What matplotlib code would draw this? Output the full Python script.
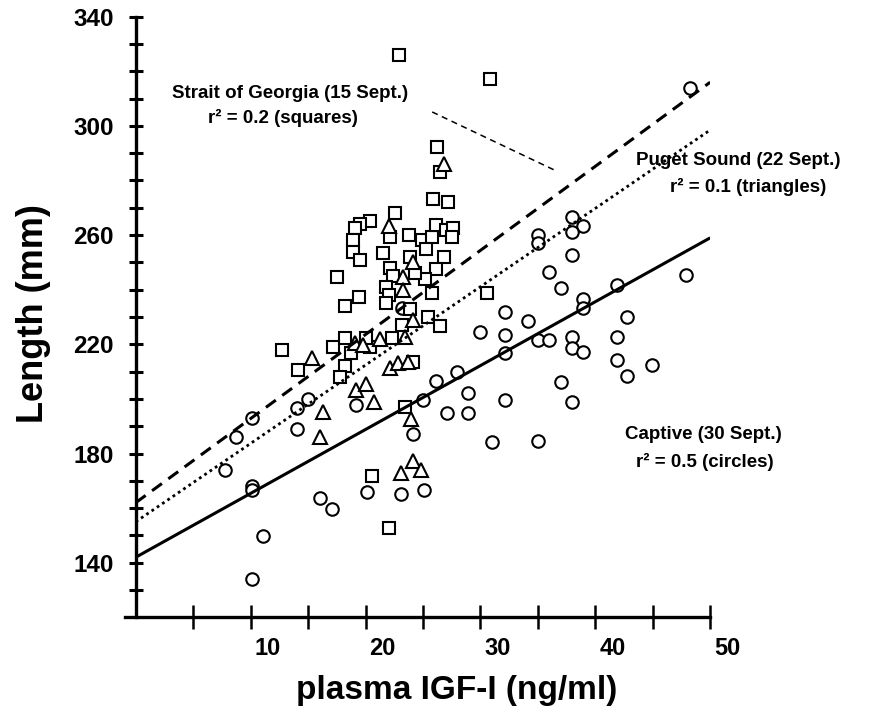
import matplotlib
matplotlib.use("Agg")
import matplotlib.pyplot as plt
import matplotlib.transforms as mtransforms
import numpy as np

plt.rcParams['font.family'] = ['Liberation Sans', 'DejaVu Sans']
plt.rcParams['font.weight'] = 'bold'

# Captive fish (circles)
circ_x = [8.7, 10.1, 7.8, 10.1, 10.1, 11.1, 10.1, 14.0, 15.0, 14.0, 19.2, 16.0, 17.1, 20.1,
          23.1, 25.1, 24.1, 25.0, 26.1, 28.0, 27.1, 28.9, 28.9, 23.2, 38.0, 38.9, 38.0, 35.0,
          35.0, 38.0, 36.0, 37.0, 47.9, 41.9, 38.9, 38.9, 32.1, 34.1, 42.8, 30.0, 32.1, 35.0,
          36.0, 38.0, 38.0, 38.9, 41.9, 41.9, 44.9, 42.8, 32.1, 32.1, 37.0, 38.0, 31.0, 35.0,
          48.2]
circ_y = [186.0, 193.0, 174.0, 168.1, 166.6, 149.8, 134.0, 196.7, 200.0, 189.0, 197.8, 163.7,
          159.5, 165.9, 165.2, 166.6, 187.1, 199.6, 206.6, 209.8, 194.8, 194.8, 202.2, 233.3,
          266.6, 263.3, 261.1, 260.0, 257.1, 252.7, 246.5, 240.6, 245.4, 241.7, 236.6, 233.3,
          231.8, 228.5, 230.0, 224.5, 223.4, 221.6, 221.6, 222.7, 218.6, 217.2, 222.7, 214.3,
          212.4, 208.4, 216.8, 199.6, 206.2, 198.9, 184.2, 184.6, 313.9]

# Strait of Georgia (squares)
sq_x = [22.9, 30.8, 26.2, 26.5, 25.9, 27.2, 22.6, 20.4, 19.5, 19.1, 18.9, 18.9, 19.5, 21.5,
        22.1, 23.8, 24.9, 25.8, 26.1, 27.0, 27.6, 27.5, 25.3, 26.8, 23.9, 26.1, 22.1, 22.4,
        25.2, 24.3, 17.5, 21.8, 19.4, 18.2, 22.0, 21.8, 25.8, 23.9, 25.4, 26.5, 23.2, 30.6,
        22.3, 18.2, 20.4, 20.0, 18.7, 18.2, 17.8, 17.2, 12.7, 14.1, 24.1, 23.4, 20.6, 22.0]
sq_y = [326.0, 317.2, 292.2, 283.1, 273.2, 272.1, 268.1, 265.2, 264.1, 262.6, 258.2, 253.8,
        250.9, 253.4, 259.3, 260.0, 258.2, 259.3, 263.7, 261.9, 262.6, 259.3, 254.9, 252.0,
        252.0, 247.6, 247.9, 245.0, 243.9, 246.1, 244.7, 241.0, 237.3, 234.0, 238.1, 235.1,
        238.8, 232.9, 230.0, 226.7, 227.1, 238.8, 222.3, 222.3, 219.1, 222.3, 216.8, 212.1,
        208.1, 218.9, 217.8, 210.5, 213.5, 197.0, 171.8, 152.7]

# Puget Sound (triangles)
tri_x = [26.8, 22.0, 24.1, 23.3, 23.3, 24.1, 23.4, 21.3, 19.1, 19.8, 15.3, 22.1, 22.8, 23.7,
         16.3, 16.0, 19.2, 20.0, 20.7, 24.0, 24.1, 23.1, 24.8]
tri_y = [286.1, 263.3, 250.1, 244.6, 239.9, 228.9, 222.7, 221.9, 220.5, 219.7, 215.0, 211.3,
         213.1, 213.5, 195.2, 186.0, 203.3, 205.4, 198.9, 192.6, 177.2, 172.9, 174.0]

# regression lines: intercept, slope
fit_names = ["squares", "triangles", "circles"]
fit_intercept = [162.0, 155.0, 142.0]
fit_slope = [3.08, 2.87, 2.34]
fit_x = [0, 50]

# pointer line from the Strait of Georgia label
pointer_x = [25.8, 36.6]
pointer_y = [305.1, 283.5]

x_ticks = [10, 20, 30, 40, 50]
y_ticks = [140, 180, 220, 260, 300, 340]

fig = plt.figure(figsize=(8.71, 7.13), dpi=100)
ax = fig.add_axes([0.144, 0.1342, 0.6714, 0.8424])
ax.set_xlim(-0.9, 50)
ax.set_ylim(120, 340)

mk = dict(linestyle='none', markerfacecolor='white', markeredgecolor='black',
          markeredgewidth=1.5, zorder=3)
ax.plot(circ_x, circ_y, marker='o', markersize=9.0, **mk)
ax.plot(sq_x, sq_y, marker='s', markersize=9.0, **mk)
ax.plot(tri_x, tri_y, marker='^', markersize=10.0, **mk)

styles = [(0, (4, 2.6)), (0, (1, 1.3)), '-']
widths = [2.2, 2.0, 2.2]
for b, m, ls, lw in zip(fit_intercept, fit_slope, styles, widths):
    yy = [b + m * x for x in fit_x]
    ax.plot(fit_x, yy, color='black', linestyle=ls, linewidth=lw, zorder=4,
            solid_capstyle='butt', dash_capstyle='butt')

ax.plot(pointer_x, pointer_y, color='black', linewidth=1.1, linestyle=(0, (4, 3)))

# labels in the plot
tk = dict(fontsize=13.5, fontweight='bold', ha='center', va='center')
ax.text(13.4, 311.7, "Strait of Georgia (15 Sept.)", **tk)
ax.text(12.8, 302.9, "r² = 0.2 (squares)", **tk)
ax.text(52.4, 287.5, "Puget Sound (22 Sept.)", clip_on=False, **tk)
ax.text(53.3, 277.6, "r² = 0.1 (triangles)", clip_on=False, **tk)
ax.text(49.4, 187.1, "Captive (30 Sept.)", clip_on=False, **tk)
ax.text(49.5, 176.9, "r² = 0.5 (circles)", clip_on=False, **tk)

# axes styling
for s in ['top', 'right']:
    ax.spines[s].set_visible(False)
ax.spines['left'].set_position(('data', 0))
ax.spines['left'].set_linewidth(2.4)
ax.spines['bottom'].set_linewidth(2.4)
ax.spines['left'].set_bounds(120, 340)

ax.set_xticks(x_ticks)
ax.set_xticklabels([str(v) for v in x_ticks])
ax.set_xticks(np.arange(5, 50, 10), minor=True)
ax.set_yticks(y_ticks)
ax.set_yticklabels([str(v) for v in y_ticks])
ax.set_yticks(np.arange(130, 340, 10), minor=True)

ax.tick_params(axis='x', which='both', direction='inout', length=17, width=1.8, pad=6,
               labelsize=17)
ax.tick_params(axis='y', which='both', direction='inout', length=10, width=2.2, pad=11,
               labelsize=17.5)

# x tick labels in the original sit a bit right of their ticks
shift = mtransforms.ScaledTranslation(0.17, 0, fig.dpi_scale_trans)
for lab in ax.get_xticklabels():
    lab.set_transform(lab.get_transform() + shift)

fig.text(0.039, 0.56, "Length (mm)", rotation=90, fontsize=26, fontweight='bold',
         ha='center', va='center')
fig.text(0.524, 0.032, "plasma IGF-I (ng/ml)", fontsize=24, fontweight='bold',
         ha='center', va='center')

fig.savefig("out.png", dpi=100)
